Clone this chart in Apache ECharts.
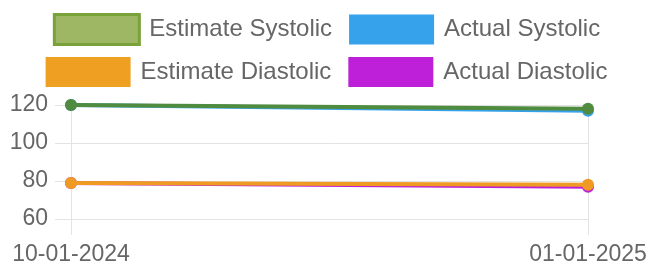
<html>
<head>
<meta charset="utf8">
<script src="https://cdn.jsdelivr.net/npm/echarts@6/dist/echarts.min.js" type="text/javascript"></script>
<style>
	body { margin: 0; background: #fff; }
	#echarts-main { width: 653px; height: 266px; }
</style>
</head>
<body>
<div id="echarts-main"></div>
<script type="text/javascript">
	// chart data
	var dates = ['10-01-2024', '01-01-2025'];
	var estimateSystolic = [120, 118];
	var actualSystolic = [120, 117];
	var estimateDiastolic = [79, 78];
	var actualDiastolic = [79, 77];

	var FONT = 'Liberation Sans';
	var GRID_COLOR = '#e3e3e3';

	function lineSeries(name, values, color, z) {
		return {
			name: name,
			type: 'line',
			data: values,
			z: z,
			symbol: 'circle',
			symbolSize: 12,
			lineStyle: { color: color, width: 4 },
			itemStyle: { color: color },
			emphasis: { disabled: true }
		};
	}

	function legendRow(top, items) {
		return {
			top: top,
			left: 'center',
			padding: 0,
			itemWidth: 85,
			itemHeight: 30,
			itemGap: 17,
			icon: 'rect',
			textStyle: { fontFamily: FONT, fontSize: 24, color: '#666', padding: [0, 0, 0, 5] },
			data: items
		};
	}

	var myChart = echarts.init(document.getElementById('echarts-main'));
	var option = {
		animation: false,
		legend: [
			legendRow(13, [
				{ name: 'Estimate Systolic', itemStyle: { color: '#9db765', borderColor: '#7aa23a', borderWidth: 3 } },
				{ name: 'Actual Systolic', itemStyle: { color: '#36a2eb' } }
			]),
			legendRow(57, [
				{ name: 'Estimate Diastolic', itemStyle: { color: '#ef9f21' } },
				{ name: 'Actual Diastolic', itemStyle: { color: '#be20d9' } }
			])
		],
		grid: { left: 71, right: 65, top: 105, bottom: 47 },
		xAxis: {
			type: 'category',
			data: dates,
			boundaryGap: false,
			axisLine: { lineStyle: { color: GRID_COLOR } },
			axisTick: { show: true, length: 16, lineStyle: { color: GRID_COLOR } },
			splitLine: { show: true, lineStyle: { color: GRID_COLOR } },
			axisLabel: { fontFamily: FONT, fontSize: 23, color: '#666', margin: 24, interval: 0 }
		},
		yAxis: {
			type: 'value',
			min: 60,
			max: 120,
			interval: 20,
			axisLine: { show: true, lineStyle: { color: GRID_COLOR } },
			axisTick: { show: true, length: 16, lineStyle: { color: GRID_COLOR } },
			splitLine: { lineStyle: { color: GRID_COLOR } },
			axisLabel: { fontFamily: FONT, fontSize: 23, color: '#666', margin: 23, padding: [0, 0, 6, 0] }
		},
		series: [
			lineSeries('Actual Systolic', actualSystolic, '#36a2eb', 2),
			lineSeries('Actual Diastolic', actualDiastolic, '#be20d9', 2),
			lineSeries('Estimate Systolic', estimateSystolic, '#4f8c40', 3),
			lineSeries('Estimate Diastolic', estimateDiastolic, '#ef9a22', 3)
		]
	};
	myChart.setOption(option);
</script>
</body>
</html>
